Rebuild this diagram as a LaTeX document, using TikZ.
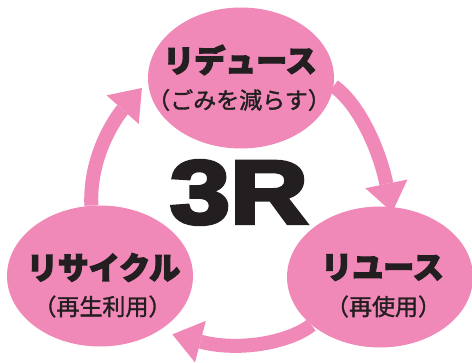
\documentclass[tikz,border=0pt]{standalone}
\usepackage{fontspec}
\usetikzlibrary{arrows.meta,shapes.geometric}
\newfontfamily\jp{Noto Sans CJK JP}[BoldFeatures={FakeBold=4}]
\newfontfamily\jpsub{Noto Sans CJK JP}[FakeBold=1.5]
\newfontfamily\lat{Liberation Sans}[BoldFeatures={FakeBold=4}]
\definecolor{pinkfill}{RGB}{241,137,184}
\definecolor{inkc}{RGB}{35,31,32}
\begin{document}
\begin{tikzpicture}[x=1pt,y=-1pt,
 blob/.style={ellipse,fill=pinkfill,draw=none,inner sep=0pt,minimum width=186pt,minimum height=141pt},
 titletext/.style={text=inkc,font=\jp\bfseries\fontsize{31}{31}\selectfont,inner sep=0pt},
 subtext/.style={text=inkc,font=\jpsub\fontsize{23}{23}\selectfont,inner sep=0pt},
 cyc/.style={draw=pinkfill,line width=14pt,-{Triangle[width=43pt,length=29pt,line width=0pt]}},
]
\useasboundingbox (0,0) rectangle (472,363);
\clip (0,0) rectangle (472,363);
\node[blob] (top) at (241,78) {};
\node[blob] (left) at (100,276) {};
\node[blob] (right) at (380,277) {};
\draw[cyc, shorten >=-5.6pt] (top.-5) .. controls (358,103) and (379,148) .. (right.81);
\draw[cyc, shorten >=14pt] (right.215) .. controls (290,342) and (240,352) .. (left.-43.5);
\draw[cyc, shorten >=9pt] (left.97) .. controls (89,155) and (117,116) .. (top.182);
\node[titletext] (topT) at (240,60) {リデュース};
\node[subtext] (topS) at (239,100) {（ごみを減らす）};
\node[titletext] (leftT) at (103.5,267.5) {リサイクル};
\node[subtext] (leftS) at (102.5,306.5) {（再生利用）};
\node[titletext] (rightT) at (382.5,267.5) {リユース};
\node[subtext] (rightS) at (383.5,306.5) {（再使用）};
\node[text=inkc,font=\lat\bfseries\fontsize{90}{90}\selectfont,inner sep=0pt,xscale=1.2] (threeR) at (239,192.5) {3R};
\end{tikzpicture}
\end{document}
